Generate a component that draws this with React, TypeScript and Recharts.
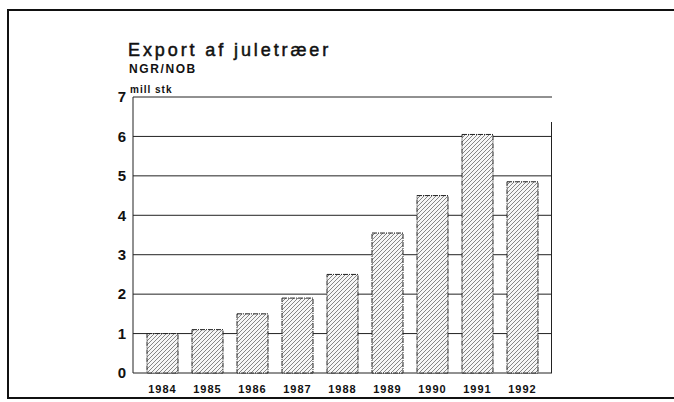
import React from "react";
import { BarChart, Bar, XAxis, YAxis, CartesianGrid } from "recharts";

const years = ["1984", "1985", "1986", "1987", "1988", "1989", "1990", "1991", "1992"];
const exportMill = [1.0, 1.1, 1.5, 1.9, 2.5, 3.55, 4.5, 6.05, 4.85];
const yTicks = [0, 1, 2, 3, 4, 5, 6, 7];
const titleText = "Export af juletræer";
const subtitleText = "NGR/NOB";
const unitText = "mill stk";

const data = years.map((y, i) => ({ year: y, value: exportMill[i] }));

const FONT = "'Liberation Sans', Arial, sans-serif";

export default function App() {
  return (
    <div style={{ position: "absolute", left: 0, top: 0, width: 674, height: 402, background: "#fff", overflow: "hidden", fontFamily: FONT }}>
      <svg width="0" height="0" style={{ position: "absolute" }}>
        <defs>
          <pattern id="hatch" width="4" height="4" patternUnits="userSpaceOnUse">
            <rect width="4" height="4" fill="#f6f6f6" />
            <path d="M-1,1 l2,-2 M0,4 l4,-4 M3,5 l2,-2" stroke="#707070" strokeWidth="0.85" />
          </pattern>
        </defs>
      </svg>
      <div style={{ position: "absolute", left: 7, top: 9, width: 667, height: 2, background: "#111" }} />
      <div style={{ position: "absolute", left: 7, top: 9, width: 2, height: 390, background: "#111" }} />
      <div style={{ position: "absolute", left: 7, top: 397, width: 667, height: 2, background: "#111" }} />
      <BarChart
        width={674}
        height={402}
        data={data}
        margin={{ top: 97, right: 122, bottom: 0, left: 0 }}
        barSize={31}
        style={{ position: "absolute", left: 0, top: 0 }}
      >
        <CartesianGrid vertical={false} horizontal={true} stroke="#222" strokeWidth={1} />
        <XAxis
          dataKey="year"
          height={29}
          tickLine={false}
          axisLine={false}
          tickSize={0}
          tickMargin={12}
          padding={{ left: 7, right: 7 }}
          interval={0}
          tick={{ fill: "#111", fontSize: 11, fontWeight: 700, fontFamily: FONT, letterSpacing: 1 }}
        />
        <YAxis
          width={133}
          domain={[0, 7]}
          ticks={yTicks}
          tickLine={false}
          axisLine={{ stroke: "#222", strokeWidth: 1 }}
          tickSize={0}
          tickMargin={7}
          interval={0}
          tick={{ fill: "#111", fontSize: 15, fontWeight: 700, fontFamily: FONT }}
        />
        <Bar
          dataKey="value"
          fill="url(#hatch)"
          stroke="#222"
          strokeWidth={1}
          strokeDasharray="5 1 1 1"
          isAnimationActive={false}
        />
      </BarChart>
      <div style={{ position: "absolute", left: 551, top: 122, width: 0, height: 251, borderLeft: "1px solid #222" }} />
      <div style={{ position: "absolute", left: 128, top: 40, fontSize: 18, letterSpacing: 2.9, color: "#111", whiteSpace: "nowrap", WebkitTextStroke: "0.5px #111" }}>
        {titleText}
      </div>
      <div style={{ position: "absolute", left: 129, top: 62, fontSize: 12, fontWeight: 700, letterSpacing: 1.6, color: "#111", whiteSpace: "nowrap" }}>
        {subtitleText}
      </div>
      <div style={{ position: "absolute", left: 130, top: 84, fontSize: 10, fontWeight: 700, letterSpacing: 1, color: "#111", whiteSpace: "nowrap" }}>
        {unitText}
      </div>
    </div>
  );
}
